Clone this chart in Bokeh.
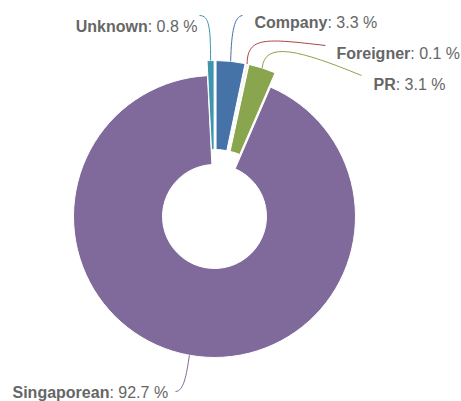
import math
from bokeh.plotting import figure
from bokeh.models import Range1d, ColumnDataSource
from bokeh.embed import file_html
from bokeh.resources import INLINE
from bokeh.core.properties import value

# ---- data ----
categories = ["Company", "Foreigner", "PR", "Singaporean", "Unknown"]
percentages = [3.3, 0.1, 3.1, 92.7, 0.8]
colors = ["#4572A7", "#AA4643", "#89A54E", "#80699B", "#3D96AE"]
sliced = [True, True, True, False, True]

# ---- layout (reference pixel space, y down) ----
W_REF, H_REF = 461, 401
FIG_W, FIG_H = 461, 401
SX = FIG_W / W_REF
CX, CY = 214, 216
R_OUT, R_IN = 141, 52
OFFSET = 15
FONT_PX = 16
TEXT_COLOR = "#666666"

# label placement: (align, x, baseline)
label_layout = {
    "Company": ("left", 254, 22),
    "Foreigner": ("left", 336, 53),
    "PR": ("left", 373, 84),
    "Singaporean": ("left", 12, 392),
    "Unknown": ("right", 197, 25.5),
}
# connector: label-side point and two control points
connector_layout = {
    "Company": ((242, 15), (234, 16), (231, 30)),
    "Foreigner": ((325, 45), (265, 38), (247, 36)),
    "PR": ((361, 75), (300, 50), (264, 40)),
    "Singaporean": ((175, 391), (183, 391), (186, 375)),
    "Unknown": ((199, 15), (209, 15), (210, 28)),
}

BOLD = {"U": 722, "n": 611, "k": 556, "o": 611, "w": 778, "C": 722, "m": 889,
        "p": 611, "a": 556, "y": 556, "F": 611, "r": 389, "e": 556, "i": 278,
        "g": 611, "P": 667, "R": 722, "S": 667}
REG = {":": 278, " ": 278, ".": 278, "%": 889}
for d in "0123456789":
    REG[d] = 556


def text_w(s, table):
    return sum(table.get(ch, 556) for ch in s) / 1000.0 * FONT_PX


def dy(Y):
    return H_REF - Y


p = figure(width=FIG_W, height=FIG_H, output_backend="svg", toolbar_location=None,
           x_range=Range1d(0, W_REF), y_range=Range1d(0, H_REF), min_border=0)
p.xaxis.visible = False
p.yaxis.visible = False
p.xgrid.visible = False
p.ygrid.visible = False
p.outline_line_color = None
p.background_fill_color = "white"
p.border_fill_color = "white"

total = sum(percentages)
cum = 0.0
wx, wy, ws, we, wc = [], [], [], [], []
bx0, by0, bx1, by1, bcx0, bcy0, bcx1, bcy1, bcol = [], [], [], [], [], [], [], [], []
jx, jy, nt, vt = [], [], [], []

for cat, pct, col, sl in zip(categories, percentages, colors, sliced):
    a0 = 2 * math.pi * cum / total
    a1 = 2 * math.pi * (cum + pct) / total
    cum += pct
    mid = (a0 + a1) / 2
    off = OFFSET if sl else 0
    cxr = CX + off * math.sin(mid)
    cyr = CY - off * math.cos(mid)
    wx.append(cxr)
    wy.append(dy(cyr))
    ws.append(math.pi / 2 - a1)
    we.append(math.pi / 2 - a0)
    wc.append(col)

    # connector
    tx = cxr + R_OUT * math.sin(mid)
    ty = cyr - R_OUT * math.cos(mid)
    (sx0, sy0), (c0x, c0y), (c1x, c1y) = connector_layout[cat]
    bx0.append(sx0); by0.append(dy(sy0))
    bx1.append(tx); by1.append(dy(ty))
    bcx0.append(c0x); bcy0.append(dy(c0y))
    bcx1.append(c1x); bcy1.append(dy(c1y))
    bcol.append(col)

    # labels: bold name right-aligned and value left-aligned at a junction
    align, lx, base = label_layout[cat]
    vtxt = ": %.1f %%" % pct
    if align == "left":
        jx.append(lx + text_w(cat, BOLD) / SX)
    else:
        jx.append(lx - text_w(vtxt, REG) / SX)
    jy.append(dy(base))
    nt.append(cat); vt.append(vtxt)

wsrc = ColumnDataSource(dict(x=wx, y=wy, s=ws, e=we, c=wc))
p.annular_wedge(x="x", y="y", inner_radius=R_IN, outer_radius=R_OUT,
                start_angle="s", end_angle="e", fill_color="c",
                line_color="white", line_width=1, source=wsrc)

bsrc = ColumnDataSource(dict(x0=bx0, y0=by0, x1=bx1, y1=by1,
                             cx0=bcx0, cy0=bcy0, cx1=bcx1, cy1=bcy1, c=bcol))
p.bezier(x0="x0", y0="y0", x1="x1", y1="y1", cx0="cx0", cy0="cy0",
         cx1="cx1", cy1="cy1", line_color="c", line_width=1, source=bsrc)

fs = "%.1fpx" % (FONT_PX * SX)
lsrc = ColumnDataSource(dict(x=jx, y=jy, n=nt, v=vt))
p.text(x="x", y="y", text="n", text_align="right", text_baseline="alphabetic",
       text_font=value("Liberation Sans"), text_font_style="bold",
       text_font_size=fs, text_color=TEXT_COLOR, source=lsrc)
p.text(x="x", y="y", text="v", text_align="left", text_baseline="alphabetic",
       text_font=value("Liberation Sans"), text_font_style="normal",
       text_font_size=fs, text_color=TEXT_COLOR, source=lsrc)

open("out.html", "w").write(file_html(p, INLINE))
